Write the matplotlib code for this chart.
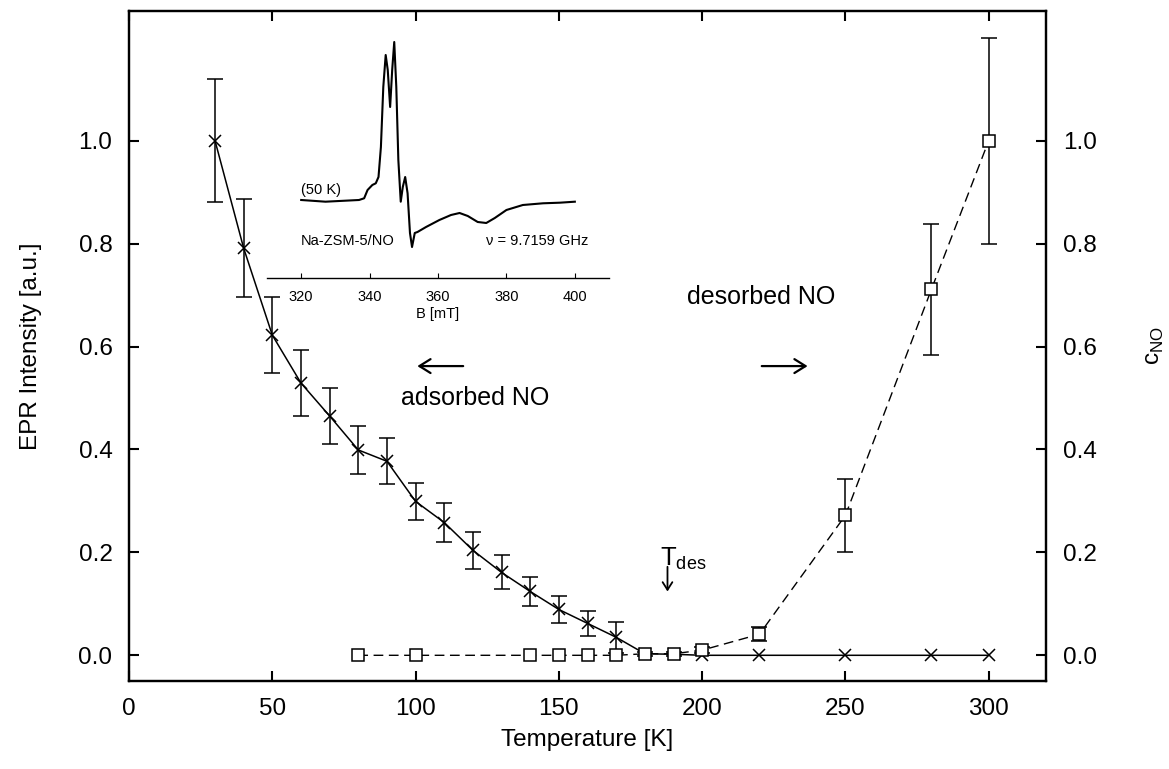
import numpy as np
import matplotlib
matplotlib.use("Agg")
import matplotlib.pyplot as plt

plt.rcParams['font.family'] = ['Liberation Sans', 'DejaVu Sans']
plt.rcParams['mathtext.fontset'] = 'custom'
plt.rcParams['mathtext.rm'] = 'Liberation Sans'

# ---- main data: EPR intensity (crosses) ----
T_epr = [30, 40, 50, 60, 70, 80, 90, 100, 110, 120, 130, 140, 150, 160, 170,
         180, 190, 200, 220, 250, 280, 300]
I_epr = [1.0, 0.791, 0.622, 0.529, 0.465, 0.399, 0.377, 0.299, 0.258, 0.204,
         0.161, 0.124, 0.089, 0.062, 0.035, 0.003, 0.002, 0.0, 0.0, 0.0, 0.0, 0.0]
E_epr = [0.12, 0.095, 0.074, 0.064, 0.055, 0.047, 0.045, 0.036, 0.038, 0.036,
         0.033, 0.029, 0.027, 0.025, 0.03, 0.0, 0.0, 0.0, 0.0, 0.0, 0.0, 0.0]

# ---- desorbed NO concentration (squares) ----
T_des = [80, 100, 140, 150, 160, 170, 180, 190, 200, 220, 250, 280, 300]
c_no = [0.0, 0.0, 0.0, 0.0, 0.0, 0.0, 0.003, 0.003, 0.01, 0.041, 0.272, 0.711, 1.0]
E_no = [0.0, 0.0, 0.0, 0.0, 0.0, 0.0, 0.004, 0.004, 0.006, 0.014, 0.071, 0.128, 0.2]

# ---- inset EPR spectrum (hand-read points) ----
B_mT = [320.0, 327.1, 336.9, 338.4, 339.4, 340.8, 341.8, 342.6, 343.3, 344.0,
        344.7, 345.3, 346.0, 346.6, 347.2, 347.8, 348.4, 349.1, 349.7, 350.4,
        351.1, 351.8, 352.4, 353.2, 354.0, 356.5, 360.4, 363.8, 366.3, 368.7,
        371.6, 374.1, 376.6, 380.0, 384.8, 390.7, 395.6, 400.0]
signal = [0, -1.7, 0, 1.7, 10, 15, 16.7, 23, 53, 113,
          145, 130, 93, 130, 158, 113, 40, -1.7, 13, 23,
          6.7, -33, -47, -33, -32, -27, -20, -15, -13, -16,
          -22, -23, -18, -10, -5, -3.3, -2.7, -1.7]

xticks = [0, 50, 100, 150, 200, 250, 300]
yticks = [0.0, 0.2, 0.4, 0.6, 0.8, 1.0]
inset_ticks = [320, 340, 360, 380, 400]

fig = plt.figure(figsize=(11.69, 7.69), dpi=100)
ax = fig.add_axes([0.1104, 0.1144, 0.7844, 0.8713])
ax2 = ax.twinx()

FS = 17.5
ax.set_xlim(0, 320)
ax.set_ylim(-0.05, 1.252)
ax2.set_ylim(-0.05, 1.252)

# crosses
ax.plot(T_epr, I_epr, color='black', lw=1.1, marker='x', ms=9, mew=1.1, zorder=3)
m = np.array(E_epr) > 0
ax.errorbar(np.array(T_epr)[m], np.array(I_epr)[m], yerr=np.array(E_epr)[m],
            fmt='none', ecolor='black', elinewidth=1.1, capsize=6, capthick=1.1)

# squares
ax2.plot(T_des, c_no, color='black', lw=1.0, ls=(0, (7, 4)), marker='s', ms=9,
         mfc='white', mec='black', mew=1.1, zorder=3)
m2 = np.array(E_no) > 0
ax2.errorbar(np.array(T_des)[m2], np.array(c_no)[m2], yerr=np.array(E_no)[m2],
             fmt='none', ecolor='black', elinewidth=1.1, capsize=6, capthick=1.1)

for a in (ax, ax2):
    for s in a.spines.values():
        s.set_linewidth(1.6)

ax.set_xticks(xticks)
ax.set_yticks(yticks)
ax.set_yticklabels([f"{v:.1f}" for v in yticks])
ax2.set_yticks(yticks)
ax2.set_yticklabels([f"{v:.1f}" for v in yticks])
ax.tick_params(axis='both', direction='in', length=7.5, width=1.5,
               labelsize=FS, pad=12, top=True)
ax2.tick_params(axis='y', direction='in', length=7.5, width=1.5,
                labelsize=FS, pad=12)

ax.set_xlabel('Temperature [K]', fontsize=FS, labelpad=7)
ax.set_ylabel('EPR Intensity [a.u.]', fontsize=FS, labelpad=26)
ax2.set_ylabel(r'c$_\mathregular{NO}$', fontsize=FS, labelpad=34)

# annotations
ax.text(220.7, 0.696, 'desorbed NO', fontsize=FS + 0.5, ha='center', va='center')
ax.text(120.9, 0.50, 'adsorbed NO', fontsize=FS + 0.5, ha='center', va='center')
ax.annotate('', xy=(100.6, 0.562), xytext=(116.6, 0.562),
            arrowprops=dict(arrowstyle='->,head_length=0.8,head_width=0.5',
                            lw=1.6, color='black', shrinkA=0, shrinkB=0))
ax.annotate('', xy=(236.8, 0.562), xytext=(220.8, 0.562),
            arrowprops=dict(arrowstyle='->,head_length=0.8,head_width=0.5',
                            lw=1.6, color='black', shrinkA=0, shrinkB=0))
ax.text(185.3, 0.175, r'T$_\mathregular{des}$', fontsize=FS + 1, ha='left',
        va='baseline')
ax.annotate('', xy=(187.9, 0.124), xytext=(187.9, 0.172),
            arrowprops=dict(arrowstyle='->,head_length=0.55,head_width=0.35',
                            lw=1.3, color='black', shrinkA=0, shrinkB=0))

# inset
ins = fig.add_axes([0.2284, 0.6385, 0.2926, 0.3355])
ins.patch.set_alpha(0)
ins.plot(B_mT, signal, color='black', lw=1.5)
ins.set_xlim(310, 410)
ins.set_ylim(-78, 180)
for k in ('top', 'left', 'right'):
    ins.spines[k].set_visible(False)
ins.spines['bottom'].set_linewidth(1.0)
ins.set_yticks([])
ins.set_xticks(inset_ticks)
ins.tick_params(axis='x', direction='in', length=3.5, width=0.8,
                labelsize=10.5, pad=9)
ins.set_xlabel('B [mT]', fontsize=10.5, labelpad=2)
ins.text(320, 3, '(50 K)', fontsize=10.5, ha='left', va='bottom')
ins.text(320, -40.7, 'Na-ZSM-5/NO', fontsize=10.5, ha='left', va='center')
ins.text(403.9, -40.7, 'ν = 9.7159 GHz', fontsize=10.5, ha='right', va='center')

fig.savefig('out.png', dpi=100)
